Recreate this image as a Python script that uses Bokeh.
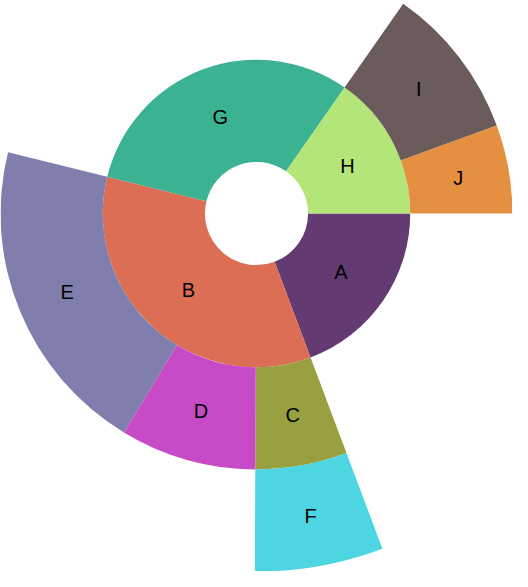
import math
from bokeh.plotting import figure
from bokeh.models import ColumnDataSource, Range1d
from bokeh.core.properties import value
from bokeh.embed import file_html
from bokeh.resources import INLINE

# Hierarchy (sunburst), order = clockwise from 3 o'clock
names = ["A", "B", "G", "H", "C", "D", "E", "I", "J", "F"]
parents = ["", "", "", "", "B", "B", "B", "H", "H", "C"]
values = [19.3, 34.6, 30.9, 15.3, 5.8, 8.6, 20.2, 9.7, 5.6, 5.8]
colors = ["#633A71", "#DD6E56", "#3BB392", "#B4E578", "#98A03F",
          "#C74BC6", "#7F7EAC", "#6B5B5B", "#E58F40", "#4DD6E1"]

HOLE = 53.0
RING = 105.0

W, H = 512, 571
S = 0.973          # pixels per data unit
CX, CY = 256, 213  # centre in pixels from the figure's top-left

total = sum(v for v, par in zip(values, parents) if par == "")

info = {}


def place(parent, end_angle, level):
    cur = end_angle
    for i, (n, par) in enumerate(zip(names, parents)):
        if par != parent:
            continue
        span = values[i] / total * 2 * math.pi
        start = cur - span
        info[n] = dict(idx=i, start=start, end=cur, level=level)
        place(n, cur, level + 1)
        cur = start


place("", 0.0, 1)

rows = dict(start=[], end=[], inner=[], outer=[], color=[], lx=[], ly=[], name=[])
for n in names:
    d = info[n]
    i = d["idx"]
    inner = HOLE + (d["level"] - 1) * RING
    outer = inner + RING
    mid = (d["start"] + d["end"]) / 2
    rm = (inner + outer) / 2
    rows["start"].append(d["start"])
    rows["end"].append(d["end"])
    rows["inner"].append(inner)
    rows["outer"].append(outer)
    rows["color"].append(colors[i])
    rows["lx"].append(rm * math.cos(mid))
    rows["ly"].append(rm * math.sin(mid))
    rows["name"].append(n)

src = ColumnDataSource(rows)

p = figure(width=W, height=H, output_backend="svg", toolbar_location=None,
           x_range=Range1d(-CX / S, (W - CX) / S),
           y_range=Range1d((CY - H) / S, CY / S),
           min_border=0)
p.axis.visible = False
p.xgrid.visible = False
p.ygrid.visible = False
p.outline_line_color = None
p.background_fill_color = "white"

p.annular_wedge(x=0, y=0, inner_radius="inner", outer_radius="outer",
                start_angle="start", end_angle="end", fill_color="color",
                line_color=None, source=src)

p.text(x="lx", y="ly", text="name", source=src, text_align="center",
       text_baseline="middle", text_color="black",
       text_font=value("Liberation Sans"), text_font_size="20px")

open("out.html", "w").write(file_html(p, INLINE))
